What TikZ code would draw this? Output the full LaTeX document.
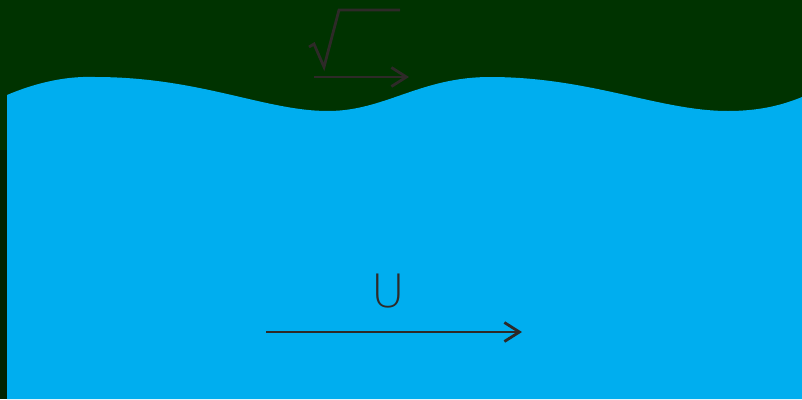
\documentclass[tikz,border=0pt]{standalone}
\usepackage{fontspec}
\newfontfamily\labelfont{DejaVu Sans ExtraLight}
\usetikzlibrary{arrows.meta}
\definecolor{deepGreen}{RGB}{0,51,0}
\definecolor{darkGreen}{RGB}{0,34,0}
\definecolor{waterBlue}{RGB}{0,174,239}
\definecolor{inkGrey}{RGB}{46,42,40}

\begin{document}
\begin{tikzpicture}[
  x=1pt,y=-1pt,
  flowarrow/.style={draw=inkGrey,line width=2.8pt,-{Straight Barb[length=15pt,width=19pt,line width=2.8pt]}},
  rootsign/.style={draw=inkGrey,line width=2.8pt,line join=miter}
]
  % Background and left edge strip.
  \useasboundingbox (0,0) rectangle (802,399);
  \fill[deepGreen] (0,0) rectangle (802,399);
  \fill[darkGreen] (0,150) rectangle (7,399);

  % Water body with the wavy surface.
  \fill[waterBlue] (7,399) -- (7,95)
    .. controls (40,81) and (70,76) .. (95,77)
    .. controls (200,77) and (265,111) .. (328,111)
    .. controls (385,111) and (420,77) .. (490,77)
    .. controls (590,77) and (660,111) .. (728,111)
    .. controls (762,111) and (785,104) .. (802,97)
    -- (802,399) -- cycle;

  % Square-root mark and surface arrow.
  \draw[rootsign] (309,47) -- (314,44) -- (324,67) -- (339,10) -- (400,10);
  \coordinate (surfL) at (314,77);
  \coordinate (surfR) at (409,77);
  \draw[flowarrow] (surfL) -- (surfR);

  % Bulk flow arrow with its label.
  \node[text=inkGrey,font=\labelfont\fontsize{46}{46}\selectfont] (ulabel) at (388,291) {U};
  \coordinate (flowL) at (266,332);
  \coordinate (flowR) at (522,332);
  \draw[flowarrow] (flowL) -- (flowR);
\end{tikzpicture}
\end{document}
